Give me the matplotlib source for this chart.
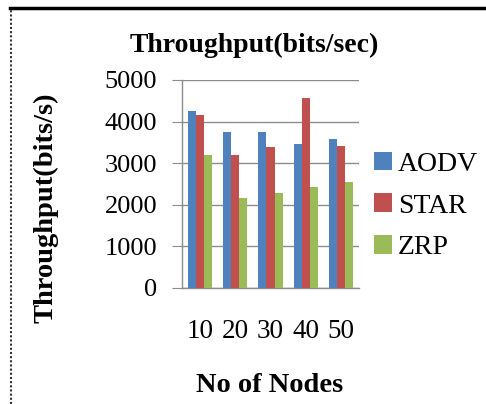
import matplotlib
matplotlib.use("Agg")
import matplotlib.pyplot as plt
from matplotlib.lines import Line2D
from matplotlib.patches import Patch
import numpy as np

nodes = ["10", "20", "30", "40", "50"]
series = ["AODV", "STAR", "ZRP"]
aodv = [4260, 3760, 3760, 3450, 3570]
star = [4160, 3200, 3400, 4570, 3420]
zrp = [3200, 2170, 2290, 2420, 2540]
colors = ["#4F81BD", "#C0504D", "#9BBB59"]

plt.rcParams["font.family"] = ["Liberation Serif", "DejaVu Serif"]

W, H = 486, 404
fig = plt.figure(figsize=(W / 100, H / 100), dpi=100)
fig.patch.set_facecolor("white")

ax = fig.add_axes([182 / W, 1 - 288 / H, (359 - 182) / W, (288 - 80) / H])

x = np.arange(len(nodes))
bw = 0.227
for i, (vals, c) in enumerate(zip([aodv, star, zrp], colors)):
    ax.bar(x + (i - 1) * bw, vals, bw, color=c, label=series[i], zorder=3)

ax.set_xlim(-0.5, len(nodes) - 0.5)
ax.set_ylim(0, 5000)
ax.set_yticks(range(0, 5001, 1000))
ax.set_xticks(x)
ax.set_xticklabels(nodes)
ax.yaxis.grid(True, color="#8c8c8c", linewidth=1.0, zorder=0)
for s in ("top", "right"):
    ax.spines[s].set_visible(False)
for s in ("left", "bottom"):
    ax.spines[s].set_color("#8c8c8c")
    ax.spines[s].set_linewidth(1.0)
ax.tick_params(axis="y", length=7, color="#8c8c8c", labelsize=19, pad=11)
ax.tick_params(axis="x", length=0, labelsize=19.5, pad=22)

fig.text(254 / W, 1 - 45 / H, "Throughput(bits/sec)", ha="center", va="center",
         fontsize=20, fontweight="bold")
fig.text(46 / W, 1 - 208 / H, "Throughput(bits/s)", ha="center", va="center",
         rotation=90, fontsize=20.5, fontweight="bold")
fig.text(270 / W, 1 - 385 / H, "No of Nodes", ha="center", va="center",
         fontsize=20.5, fontweight="bold")

handles = [Patch(facecolor=c, label=s) for s, c in zip(series, colors)]
fig.legend(handles=handles, loc="center left", bbox_to_anchor=(363 / W, 1 - 206 / H),
           frameon=False, fontsize=20, handlelength=0.65, handleheight=0.65,
           handletextpad=0.2, labelspacing=0.6, borderaxespad=0)

# picture frame
fig.add_artist(Line2D([10 / W, 1], [1 - 7.5 / H, 1 - 7.5 / H], color="black", linewidth=2.5))
fig.add_artist(Line2D([10.5 / W, 10.5 / W], [0, 1 - 7.5 / H], color="#333333",
                      linewidth=1.5, linestyle=(0, (1, 1))))

fig.savefig("out.png", dpi=100, facecolor="white")
